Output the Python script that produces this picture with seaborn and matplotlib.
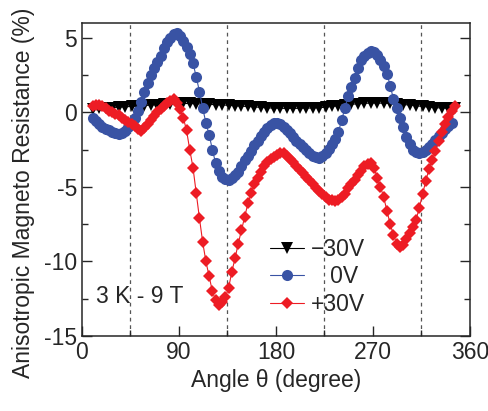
import matplotlib
matplotlib.use('Agg')
import matplotlib.pyplot as plt
import numpy as np
import seaborn as sns

# angles (degree)
angles = list(range(10, 347, 3))
angles_m30 = list(range(10, 347, 6))

amr_m30 = [0.25, 0.28, 0.3, 0.33, 0.35, 0.38, 0.4, 0.43, 0.46, 0.5,
           0.53, 0.56, 0.58, 0.6, 0.6, 0.6, 0.58, 0.56, 0.54, 0.52,
           0.5, 0.48, 0.45, 0.42, 0.4, 0.37, 0.34, 0.31, 0.29, 0.28,
           0.27, 0.27, 0.28, 0.29, 0.3, 0.32, 0.35, 0.4, 0.45, 0.5,
           0.55, 0.58, 0.61, 0.63, 0.63, 0.62, 0.6, 0.57, 0.53, 0.5,
           0.45, 0.4, 0.36, 0.32, 0.3, 0.28, 0.27]

amr_0 = [-0.35, -0.6, -0.8, -0.95, -1.1, -1.2, -1.3, -1.4, -1.45, -1.4, -1.25,
         -1.0, -0.75, -0.4, 0.1, 0.7, 1.4, 2.0, 2.5, 3.0, 3.4, 3.8, 4.3, 4.7, 5.0, 5.25,
         5.3, 5.15, 4.8, 4.4, 3.9, 3.3, 2.4, 1.4, 0.3, -0.7, -1.5, -2.5, -3.4, -3.9, -4.3,
         -4.45, -4.5, -4.4, -4.2, -4.0, -3.6, -3.2, -2.9, -2.6, -2.2, -1.9, -1.6, -1.3, -1.05, -0.85,
         -0.7, -0.68, -0.75, -0.95, -1.15, -1.4, -1.65, -1.9, -2.1, -2.35, -2.55, -2.75, -2.9, -3.0, -3.05,
         -2.95, -2.75, -2.45, -2.1, -1.75, -1.3, -0.5, 0.3, 1.1, 1.7, 2.3, 3.0, 3.5, 3.8, 4.0,
         4.1, 4.05, 3.85, 3.5, 3.1, 2.6, 1.8, 0.9, 0.3, -0.35, -1.0, -1.65, -2.15, -2.5, -2.65,
         -2.7, -2.65, -2.55, -2.35, -2.1, -1.85, -1.6, -1.35, -1.1, -0.9, -0.7]

amr_p30 = [0.4, 0.5, 0.5, 0.4, 0.3, 0.1, 0.0, -0.1, -0.2, -0.35, -0.5,
           -0.65, -0.8, -0.9, -1.1, -1.25, -1.05, -0.75, -0.5, -0.25, 0.0, 0.2, 0.4, 0.6, 0.8, 0.9,
           0.6, 0.2, -0.35, -1.2, -2.5, -3.7, -5.4, -7.1, -8.7, -10.0, -11.0, -12.0, -12.6, -12.9, -12.7,
           -12.4, -11.8, -10.7, -9.8, -8.8, -7.9, -7.0, -6.1, -5.4, -4.8, -4.4, -4.0, -3.6, -3.3, -3.1,
           -3.0, -2.85, -2.75, -2.75, -2.9, -3.1, -3.35, -3.6, -3.85, -4.05, -4.3, -4.55, -4.8, -5.05, -5.3,
           -5.5, -5.7, -5.85, -5.9, -5.95, -5.9, -5.7, -5.45, -5.1, -4.8, -4.5, -4.2, -3.9, -3.6, -3.45,
           -3.4, -3.7, -4.4, -5.0, -5.7, -6.6, -7.5, -8.2, -8.8, -9.05, -8.9, -8.5, -8.1, -7.7, -7.2,
           -6.4, -5.5, -4.6, -3.8, -3.2, -2.6, -1.9, -1.3, -0.8, -0.3, 0.1, 0.45]

labels = ['\u221230V', '   0V', '+30V']
guide_angles = [45, 135, 225, 315]

sns.set_style('ticks')
plt.rcParams['font.family'] = ['Liberation Sans', 'DejaVu Sans']
plt.rcParams['axes.unicode_minus'] = False

fig = plt.figure(figsize=(4.88, 4.11), dpi=100)
ax = fig.add_axes([0.168, 0.1825, 0.795, 0.7615])

for a in guide_angles:
    ax.axvline(a, color='#555555', ls=(0, (3, 3)), lw=0.9, zorder=0)

sns.lineplot(x=angles_m30, y=amr_m30, ax=ax, color='black', lw=0.8, marker='v',
             markersize=8.5, markeredgewidth=0, label=labels[0])
sns.lineplot(x=angles[:-1], y=amr_0, ax=ax, color='#3953a4', lw=0.8, marker='o',
             markersize=8, markeredgewidth=0, label=labels[1])
sns.lineplot(x=angles, y=amr_p30, ax=ax, color='#ed1c24', lw=0.8, marker='D',
             markersize=6.5, markeredgewidth=0, label=labels[2])

ax.set_xlim(0, 360)
ax.set_ylim(-15, 6)
ax.set_xticks([0, 90, 180, 270, 360])
ax.set_xticks([45, 135, 225, 315], minor=True)
ax.set_yticks([5, 0, -5, -10, -15])
ax.set_yticks([2.5, -2.5, -7.5, -12.5], minor=True)
ax.tick_params(which='both', direction='in', top=False, right=True, labelsize=16.5, width=1)
ax.tick_params(which='major', length=7)
ax.tick_params(which='minor', length=4)
for s in ax.spines.values():
    s.set_linewidth(1.1)

ax.set_xlabel('Angle \u03b8 (degree)', fontsize=16.5, labelpad=4)
ax.set_ylabel('Anisotropic Magneto Resistance (%)', fontsize=16.5)
ax.yaxis.set_label_coords(-0.12, 0.457)
ax.text(0.035, 0.105, '3 K - 9 T', transform=ax.transAxes, fontsize=16.5)

ax.legend(frameon=False, loc='upper left', bbox_to_anchor=(0.455, 0.35), fontsize=16.5,
          handlelength=1.5, handletextpad=0.3, labelspacing=0.2, borderpad=0)

plt.savefig('out.png', dpi=100)
